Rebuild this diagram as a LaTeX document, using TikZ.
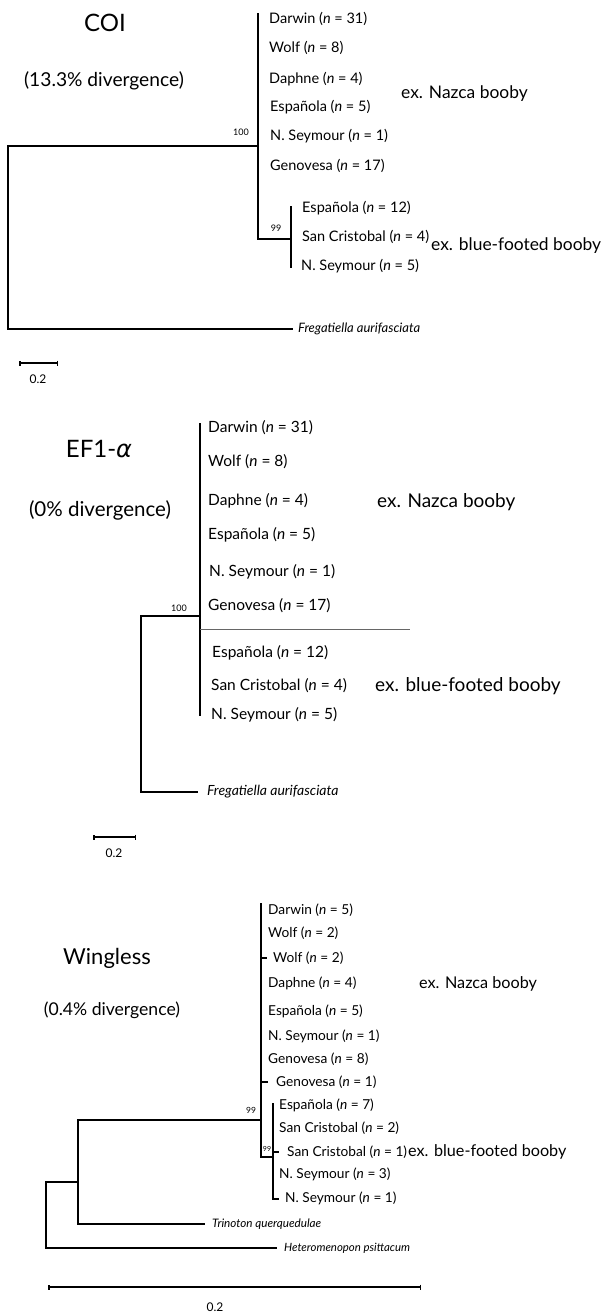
\documentclass[tikz,border=0pt]{standalone}
\usepackage{fontspec}
\setmainfont{Lato}
\newfontfamily\grkfont{DejaVu Sans}
\usepackage{tikz}
\usetikzlibrary{arrows.meta, positioning}
\newcommand{\fsz}[1]{\fontsize{#1}{#1}\selectfont}

\begin{document}
\begin{tikzpicture}[
    x=1pt, y=-1pt,
    branch/.style={line width=1.8pt, line join=miter},
    thinline/.style={line width=0.7pt, black!60},
    leaf/.style={anchor=west, inner sep=0pt, font=\fsz{#1}},
    taxon/.style={anchor=west, inner sep=0pt, font=\itshape\fsz{#1}},
    clade/.style={anchor=west, inner sep=0pt, font=\fsz{#1}},
    gene/.style={inner sep=0pt, font=\fsz{#1}},
    boot/.style={inner sep=0pt, font=\fsz{#1}},
    bar/.style={line width=1.5pt, {Bar[width=5pt]}-{Bar[width=5pt]}},
]
\useasboundingbox (0,0) rectangle (607,1312);

% COI
\node[gene=24] (coi-name) at (105,23) {COI};
\node[gene=19.2] (coi-div) at (104,81) {(13.3\% divergence)};
\coordinate (coi-root) at (8,146);
\coordinate (coi-a) at (258,146);
\coordinate (coi-top) at (258,13);
\coordinate (coi-b) at (258,239);
\coordinate (coi-bf) at (291,239);
\coordinate (coi-bft) at (291,206);
\coordinate (coi-bfb) at (291,268);
\coordinate (coi-out) at (293,329);
\node[leaf=14.5] (coi-t1) at (269,19) {Darwin (\textit{n} = 31)};
\node[leaf=14.5] (coi-t2) at (269,48) {Wolf (\textit{n} = 8)};
\node[leaf=14.5] (coi-t3) at (269,79) {Daphne (\textit{n} = 4)};
\node[leaf=14.5] (coi-t4) at (270,107) {Española (\textit{n} = 5)};
\node[leaf=14.5] (coi-t5) at (270,136) {N. Seymour (\textit{n} = 1)};
\node[leaf=14.5] (coi-t6) at (270,166) {Genovesa (\textit{n} = 17)};
\node[leaf=14.5] (coi-t7) at (302,208) {Española (\textit{n} = 12)};
\node[leaf=14.5] (coi-t8) at (302,237) {San Cristobal (\textit{n} = 4)};
\node[leaf=14.5] (coi-t9) at (301,266) {N. Seymour (\textit{n} = 5)};
\node[taxon=13] (coi-fre) at (298,329) {Fregatiella aurifasciata};
\node[clade=17.4] (coi-nazca) at (401,94) {ex. Nazca booby};
\node[clade=17.4] (coi-blue) at (431,246) {ex. blue-footed booby};
\node[boot=9] (coi-b100) at (241,132) {100};
\node[boot=9] (coi-b99) at (276,228) {99};
\draw[branch] (coi-a) -- (coi-root) |- (coi-out);
\draw[branch] (coi-top) -- (coi-b) -- (coi-bf);
\draw[branch] (coi-bft) -- (coi-bfb);
\coordinate (coi-s1) at (19,363);
\coordinate (coi-s2) at (58,363);
\draw[bar] (coi-s1) -- (coi-s2);
\node[gene=12] (coi-scale) at (38,379) {0.2};

% EF1-alpha
\node[gene=24] (ef-name) at (99,449) {EF1-{\grkfont\itshape α}};
\node[gene=20.5] (ef-div) at (100,510) {(0\% divergence)};
\coordinate (ef-root) at (141,616);
\coordinate (ef-a) at (200,616);
\coordinate (ef-top) at (200,423);
\coordinate (ef-bot) at (200,716);
\coordinate (ef-cut) at (200,629);
\coordinate (ef-cutend) at (410,629);
\coordinate (ef-out) at (198,792);
\node[leaf=15.5] (ef-t1) at (208,428) {Darwin (\textit{n} = 31)};
\node[leaf=15.5] (ef-t2) at (208,462) {Wolf (\textit{n} = 8)};
\node[leaf=15.5] (ef-t3) at (208,501) {Daphne (\textit{n} = 4)};
\node[leaf=15.5] (ef-t4) at (208,535) {Española (\textit{n} = 5)};
\node[leaf=15.5] (ef-t5) at (209,572) {N. Seymour (\textit{n} = 1)};
\node[leaf=15.5] (ef-t6) at (208,606) {Genovesa (\textit{n} = 17)};
\node[leaf=15.5] (ef-t7) at (212,653) {Española (\textit{n} = 12)};
\node[leaf=15.5] (ef-t8) at (211,686) {San Cristobal (\textit{n} = 4)};
\node[leaf=15.5] (ef-t9) at (211,715) {N. Seymour (\textit{n} = 5)};
\node[taxon=14] (ef-fre) at (207,792) {Fregatiella aurifasciata};
\node[clade=19] (ef-nazca) at (377,502) {ex. Nazca booby};
\node[clade=19] (ef-blue) at (375,686) {ex. blue-footed booby};
\node[boot=9] (ef-b100) at (179,608) {100};
\draw[branch] (ef-a) -- (ef-root) |- (ef-out);
\draw[branch] (ef-top) -- (ef-bot);
\draw[thinline] (ef-cut) -- (ef-cutend);
\coordinate (ef-s1) at (93,837);
\coordinate (ef-s2) at (136,837);
\draw[bar] (ef-s1) -- (ef-s2);
\node[gene=12] (ef-scale) at (114,853) {0.2};

% Wingless
\node[gene=22] (wg-name) at (107,958) {Wingless};
\node[gene=17.6] (wg-div) at (112,1010) {(0.4\% divergence)};
\coordinate (wg-top) at (261,903);
\coordinate (wg-a) at (261,1120);
\coordinate (wg-box) at (261,1157);
\coordinate (wg-bf) at (273,1157);
\coordinate (wg-bft) at (273,1103);
\coordinate (wg-bfb) at (273,1199);
\coordinate (wg-n1) at (78,1120);
\coordinate (wg-n2) at (78,1182);
\coordinate (wg-root) at (46,1182);
\coordinate (wg-tri) at (205,1224);
\coordinate (wg-het) at (277,1248);
\coordinate (wg-k1) at (261,958);
\coordinate (wg-k1e) at (267,958);
\coordinate (wg-k2) at (261,1082);
\coordinate (wg-k2e) at (268,1082);
\coordinate (wg-k3) at (273,1152);
\coordinate (wg-k3e) at (279,1152);
\coordinate (wg-k4e) at (279,1199);
\node[leaf=13.7] (wg-t1) at (268,910) {Darwin (\textit{n} = 5)};
\node[leaf=13.7] (wg-t2) at (268,933) {Wolf (\textit{n} = 2)};
\node[leaf=13.7] (wg-t3) at (273,958) {Wolf (\textit{n} = 2)};
\node[leaf=13.7] (wg-t4) at (268,983) {Daphne (\textit{n} = 4)};
\node[leaf=13.7] (wg-t5) at (268,1011) {Española (\textit{n} = 5)};
\node[leaf=13.7] (wg-t6) at (268,1036) {N. Seymour (\textit{n} = 1)};
\node[leaf=13.7] (wg-t7) at (268,1059) {Genovesa (\textit{n} = 8)};
\node[leaf=13.7] (wg-t8) at (276,1082) {Genovesa (\textit{n} = 1)};
\node[leaf=13.7] (wg-t9) at (279,1105) {Española (\textit{n} = 7)};
\node[leaf=13.7] (wg-t10) at (279,1128) {San Cristobal (\textit{n} = 2)};
\node[leaf=13.7] (wg-t11) at (287,1152) {San Cristobal (\textit{n} = 1)};
\node[leaf=13.7] (wg-t12) at (279,1174) {N. Seymour (\textit{n} = 3)};
\node[leaf=13.7] (wg-t13) at (285,1198) {N. Seymour (\textit{n} = 1)};
\node[taxon=11.7] (wg-trin) at (212,1224) {Trinoton querquedulae};
\node[taxon=11.4] (wg-hete) at (284,1248) {Heteromenopon psittacum};
\node[clade=16.2] (wg-nazca) at (419,984) {ex. Nazca booby};
\node[clade=16.2] (wg-blue) at (408,1152) {ex. blue-footed booby};
\node[boot=8.5] (wg-b99) at (251,1110) {99};
\node[boot=7] (wg-b99b) at (267,1149) {99};
\draw[branch] (wg-top) -- (wg-box) -- (wg-bf);
\draw[branch] (wg-bft) -- (wg-bfb) -- (wg-k4e);
\draw[branch] (wg-k1) -- (wg-k1e);
\draw[branch] (wg-k2) -- (wg-k2e);
\draw[branch] (wg-k3) -- (wg-k3e);
\draw[branch] (wg-a) -- (wg-n1) |- (wg-tri);
\draw[branch] (wg-n2) -- (wg-root) |- (wg-het);
\coordinate (wg-s1) at (48,1287);
\coordinate (wg-s2) at (421,1287);
\draw[bar] (wg-s1) -- (wg-s2);
\node[gene=12] (wg-scale) at (215,1307) {0.2};
\end{tikzpicture}
\end{document}
